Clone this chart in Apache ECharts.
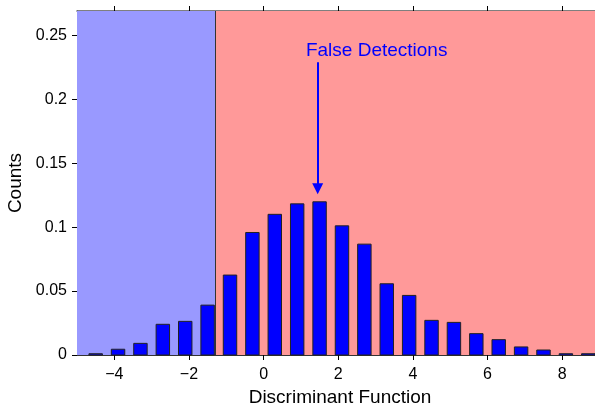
<!DOCTYPE html>
<html>
<head>
<meta charset="utf-8">
<script src="https://cdn.jsdelivr.net/npm/echarts@6/dist/echarts.min.js"></script>
<style>
html,body{margin:0;padding:0;background:#fff;}
#chart{width:595px;height:405px;}
</style>
</head>
<body>
<div id="chart"></div>
<script>
// Bin centers (Discriminant Function) and counts
const binCenters = [-4.5, -3.9, -3.3, -2.7, -2.1, -1.5, -0.9, -0.3, 0.3, 0.9, 1.5, 2.1, 2.7, 3.3, 3.9, 4.5, 5.1, 5.7, 6.3, 6.9, 7.5, 8.1, 8.7];
const counts = [0.001, 0.0045, 0.0091, 0.024, 0.0263, 0.039, 0.0625, 0.0958, 0.110, 0.1182, 0.1198, 0.101, 0.0867, 0.0557, 0.0466, 0.0271, 0.0255, 0.0167, 0.012, 0.0063, 0.0039, 0.001, 0.001];
const barHalfWidth = 0.18;
const xTicks = [-4, -2, 0, 2, 4, 6, 8];
const yTicks = [0, 0.05, 0.1, 0.15, 0.2, 0.25];
const xRange = [-5, 8.88];
const yRange = [0, 0.269];
const threshold = -1.29;
const annotationText = 'False Detections';
const arrowX = 1.45;
const arrowFromY = 0.229;
const arrowToY = 0.130;
const textPos = [3.03, 0.238];

const chart = echarts.init(document.getElementById('chart'), null, {renderer: 'canvas'});
const font = 'Liberation Sans, Arial, Helvetica, sans-serif';

const option = {
  animation: false,
  grid: {left: 77, top: 11, right: 0, bottom: 50, containLabel: false, outerBoundsMode: 'none'},
  xAxis: [{
    type: 'value', min: xRange[0], max: xRange[1], position: 'bottom',
    name: 'Discriminant Function', nameLocation: 'middle', nameGap: 24,
    nameTextStyle: {fontFamily: font, fontSize: 19, color: '#000', padding: [0, 0, 0, 8]},
    axisLine: {show: true, onZero: false, lineStyle: {color: '#333', width: 1}},
    axisTick: {show: true, inside: false, length: 5, customValues: xTicks, lineStyle: {color: '#000'}},
    axisLabel: {show: true, customValues: xTicks, fontFamily: font, fontSize: 16, color: '#000', margin: 12,
      formatter: v => (v < 0 ? '\u2212' + Math.abs(v) : String(v))},
    splitLine: {show: false}
  }, {
    type: 'value', min: xRange[0], max: xRange[1], position: 'top',
    axisLine: {show: true, onZero: false, lineStyle: {color: '#555', width: 1.5}},
    axisTick: {show: true, inside: false, length: 5, customValues: xTicks, lineStyle: {color: '#000'}},
    axisLabel: {show: false},
    splitLine: {show: false}
  }],
  yAxis: [{
    type: 'value', min: yRange[0], max: yRange[1],
    name: 'Counts', nameLocation: 'middle', nameGap: 44,
    nameTextStyle: {fontFamily: font, fontSize: 19, color: '#000'},
    axisLine: {show: true, onZero: false, lineStyle: {color: '#333', width: 1}},
    axisTick: {show: true, inside: false, length: 5, customValues: yTicks, lineStyle: {color: '#000'}},
    axisLabel: {show: true, customValues: yTicks, fontFamily: font, fontSize: 16, color: '#000', margin: 10},
    splitLine: {show: false}
  }],
  series: [{
    type: 'custom',
    xAxisIndex: 0,
    yAxisIndex: 0,
    z: 3,
    data: binCenters.map((c, i) => [c, counts[i]]),
    renderItem: function (params, api) {
      const c = api.value(0), v = api.value(1);
      const p0 = api.coord([c - barHalfWidth, v]);
      const p1 = api.coord([c + barHalfWidth, 0]);
      return {
        type: 'rect',
        shape: {x: p0[0], y: p0[1], width: p1[0] - p0[0], height: p1[1] - p0[1]},
        style: {fill: '#0000ff', stroke: '#222', lineWidth: 1}
      };
    },
    markArea: {
      silent: true,
      itemStyle: {opacity: 1},
      z: 1,
      data: [
        [{xAxis: xRange[0], yAxis: yRange[0], itemStyle: {color: '#9999ff'}}, {xAxis: threshold, yAxis: yRange[1]}],
        [{xAxis: threshold, yAxis: yRange[0], itemStyle: {color: '#ff9999'}}, {xAxis: xRange[1], yAxis: yRange[1]}]
      ]
    },
    markLine: {
      silent: true,
      animation: false,
      label: {show: false},
      data: [
        [{coord: [threshold, yRange[0]], symbol: 'none', lineStyle: {color: '#333', width: 1, type: 'solid'}},
         {coord: [threshold, yRange[1]], symbol: 'none'}],
        [{coord: [arrowX, arrowFromY], symbol: 'none', lineStyle: {color: '#0000ff', width: 2, type: 'solid'}},
         {coord: [arrowX, arrowToY], symbol: 'triangle', symbolSize: [11, 11]}]
      ]
    },
    markPoint: {
      silent: true,
      symbol: 'rect',
      symbolSize: 0,
      data: [{coord: textPos, value: annotationText}],
      label: {show: true, position: 'inside', formatter: annotationText, fontFamily: font, fontSize: 19, color: '#0000ff'}
    }
  }]
};
chart.setOption(option);
</script>
</body>
</html>
